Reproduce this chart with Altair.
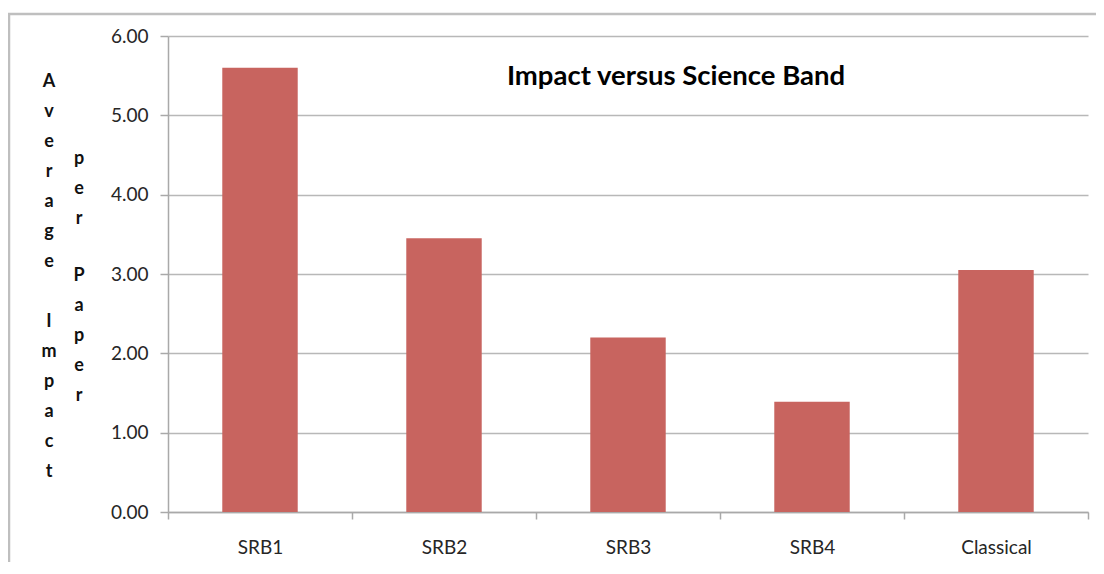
import altair as alt
import pandas as pd

categories = ["SRB1", "SRB2", "SRB3", "SRB4", "Classical"]
values = [5.60, 3.45, 2.20, 1.39, 3.05]
y_ticks = [0, 1, 2, 3, 4, 5, 6]
chart_title = "Impact versus Science Band"
ylabel_words_col1 = ["Average", "Impact"]
ylabel_words_col2 = ["per", "Paper"]

df = pd.DataFrame({"band": categories, "impact": values})
one = pd.DataFrame({"k": [0]})

FONT = "Lato"
GRAY = "#A9A9A9"
TXT = "#262626"
LBL = dict(font=FONT, fontSize=18, fontWeight="bold", color="#111111",
           align="center", baseline="top", lineHeight=30)

bars = alt.Chart(df).mark_bar(
    color="#C8645F", width=alt.RelativeBandSize(0.41)
).encode(
    x=alt.X(
        "band:N",
        sort=categories,
        scale=alt.Scale(paddingInner=0, paddingOuter=0),
        axis=alt.Axis(
            title=None, labelAngle=0, tickBand="extent", ticks=True, tickSize=7,
            tickColor=GRAY, tickWidth=1.5, domainColor=GRAY, domainWidth=1.5,
            labelPadding=19, labelFontSize=19, labelFont=FONT, labelColor=TXT,
            grid=False,
        ),
    ),
    y=alt.Y(
        "impact:Q",
        scale=alt.Scale(domain=[0, 6], nice=False),
        axis=alt.Axis(
            values=y_ticks, format=".2f", grid=True, gridColor="#B8B8B8", gridWidth=1.5,
            tickSize=8, tickColor=GRAY, tickWidth=1.5, domainColor=GRAY, domainWidth=1.5,
            labelPadding=12, labelFontSize=19, labelFont=FONT, labelColor=TXT,
            title=None,
        ),
    ),
)


def block(word, xpos, ypos):
    return alt.Chart(one).mark_text(text=list(word), **LBL).encode(
        x=alt.value(xpos), y=alt.value(ypos)
    )


ylab = [
    block(ylabel_words_col1[0], -119, 37),
    block(ylabel_words_col1[1], -119, 277),
    block(ylabel_words_col2[0], -89, 114),
    block(ylabel_words_col2[1], -89, 231),
]

title = alt.Chart(one).mark_text(
    text=chart_title, font=FONT, fontSize=27.5, fontWeight="bold", color="#000000",
    align="center", baseline="middle",
).encode(x=alt.value(508), y=alt.value(41))

frame = alt.Chart(one).mark_rect(
    fillOpacity=0, stroke="#BFBFBF", strokeWidth=2.5,
).encode(x=alt.value(-159), x2=alt.value(990), y=alt.value(-22), y2=alt.value(700))

chart = alt.layer(bars, *ylab, title, frame).properties(
    width=920, height=476,
    autosize=alt.AutoSizeParams(type="none"),
    padding={"left": 160, "top": 28, "right": 8, "bottom": 50},
).configure_view(stroke=None)

chart.save("out.html", embed_options={"renderer": "svg", "actions": False})
